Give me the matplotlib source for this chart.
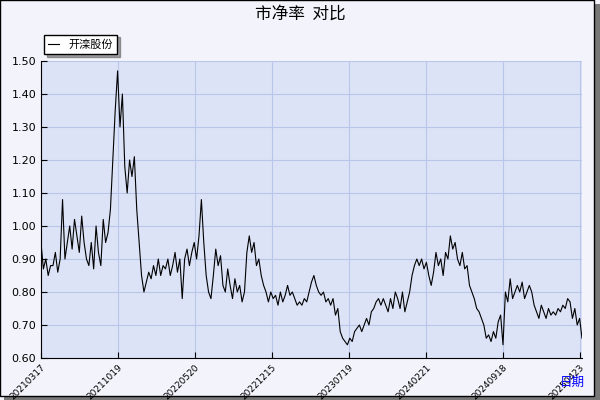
import matplotlib
matplotlib.use("Agg")
import matplotlib.pyplot as plt
import numpy as np
from matplotlib.patches import Rectangle

plt.rcParams['font.family'] = ['Noto Sans CJK SC', 'DejaVu Sans']

values = [0.95,0.87,0.90,0.85,0.88,
0.88,0.92,0.86,0.90,1.08,0.90,
0.95,1.00,0.93,1.02,0.97,0.92,1.03,0.95,0.90,0.88,
0.95,0.87,1.00,0.92,0.88,1.02,0.95,
0.98,1.05,1.20,1.35,1.47,1.30,1.40,
1.18,1.10,1.20,1.15,1.21,1.05,0.95,
0.85,0.80,0.83,0.86,0.84,0.88,0.85,
0.90,0.85,0.88,0.87,0.90,0.85,0.88,0.92,0.86,0.90,
0.78,0.90,0.93,0.88,0.92,0.95,0.90,0.97,1.08,0.95,0.85,
0.80,0.78,0.85,0.93,0.88,0.91,0.82,
0.80,0.87,0.82,0.78,0.84,0.80,0.82,0.77,0.80,0.92,0.97,0.92,0.95,0.88,0.90,
0.85,0.82,0.80,0.77,0.80,0.78,0.79,0.76,0.80,0.77,0.79,
0.82,0.79,0.80,0.78,0.76,0.77,0.76,0.78,0.77,0.80,0.83,0.85,0.82,0.80,0.79,
0.80,0.77,0.78,0.76,0.78,0.73,0.75,
0.68,0.66,0.65,0.64,0.66,0.65,0.68,0.69,0.70,
0.68,0.70,0.72,0.70,0.74,0.75,0.77,0.78,0.76,0.78,
0.76,0.74,0.78,0.75,0.80,0.78,0.75,0.80,0.74,0.77,
0.80,0.85,0.88,0.90,0.88,0.90,0.87,0.89,0.85,0.82,
0.86,0.92,0.88,0.90,0.85,0.92,0.90,0.97,0.93,0.95,
0.90,0.88,0.92,0.87,0.88,0.82,0.80,0.78,0.75,0.74,
0.72,0.70,0.66,0.67,0.65,0.68,0.66,0.71,0.73,0.64,
0.80,0.77,0.84,0.78,0.80,0.82,0.80,0.83,0.78,0.80,
0.82,0.80,0.76,0.74,0.72,0.76,0.74,0.72,0.75,0.73,
0.74,0.73,0.75,0.74,0.76,0.75,0.78,0.77,0.72,0.75,0.70,0.72,0.66]
tick_labels = ['20210317','20211019','20220520','20221215','20230719','20240221','20240918','20250423']
yticks = [0.60,0.70,0.80,0.90,1.00,1.10,1.20,1.30,1.40,1.50]

n = len(values)
x = np.arange(n)
step = (n - 1) * 77 / 541
tick_pos = [i * step for i in range(len(tick_labels))]

fig = plt.figure(figsize=(6,4), dpi=100)
fig.patch.set_facecolor('#f3f3fb')
fig.patches.append(Rectangle((0.006,0.0), 0.994, 0.99, transform=fig.transFigure, facecolor='#777777', edgecolor='none', zorder=-2))
fig.patches.append(Rectangle((0.0,0.01), 0.99, 0.99, transform=fig.transFigure, facecolor='#f3f3fb', edgecolor='black', lw=1, zorder=-1))
ax = fig.add_axes([41/600, 1-358/400, (582-41)/600, (358-61)/400])
ax.set_facecolor('#dce3f6')
ax.plot(x, values, color='black', lw=0.8, label='开滦股份')
ax.set_ylim(0.60, 1.50)
ax.set_xlim(0, n - 1)
ax.set_yticks(yticks)
ax.set_yticklabels([f'{v:.2f}' for v in yticks], fontsize=8, family='DejaVu Sans')
ax.set_xticks(tick_pos)
ax.set_xticklabels(tick_labels, rotation=45, fontsize=6.5, family='DejaVu Sans', ha='right', rotation_mode='anchor')
ax.grid(True, color='#b8c6ea', lw=0.8)
for s in ['top','right']:
    ax.spines[s].set_visible(False)
ax.tick_params(direction='in', length=4)
fig.text(0.5, 0.965, '市净率  对比', ha='center', va='center', fontsize=12)
fig.text(0.975, 0.045, '日期', color='blue', ha='right', va='center', fontsize=9)
leg = ax.legend(loc='lower left', bbox_to_anchor=(-0.005, 1.005), fontsize=8, frameon=True, fancybox=False, shadow=True, handlelength=1, borderpad=0.4)
leg.get_frame().set_edgecolor('black')
fig.savefig('out.png', facecolor=fig.get_facecolor())
